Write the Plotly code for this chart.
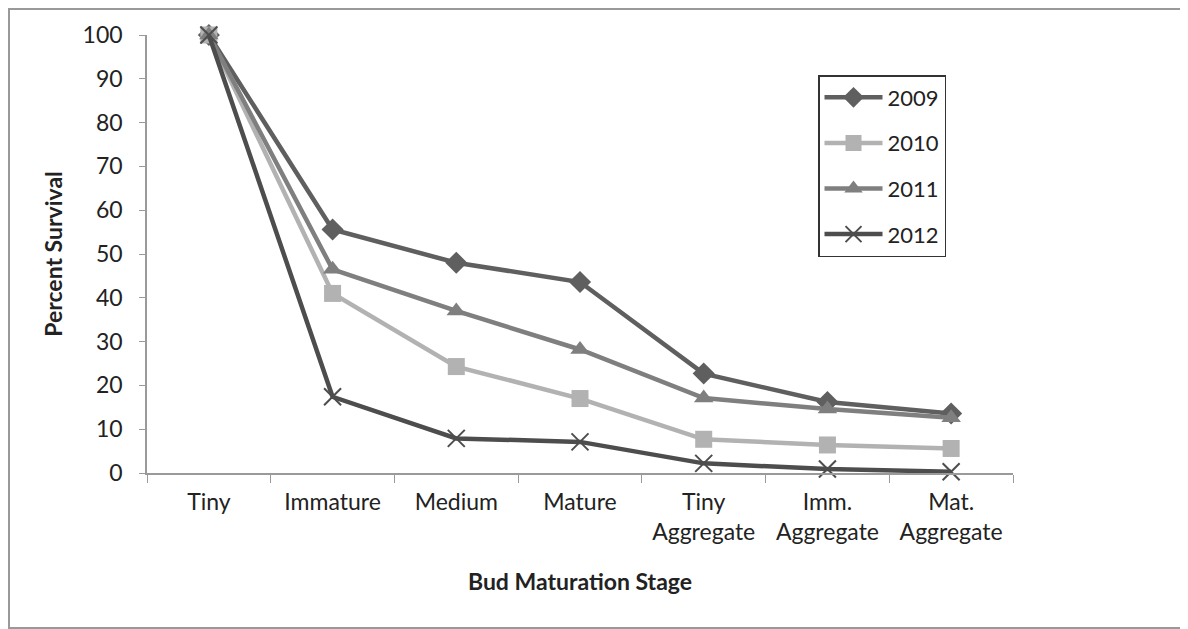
import plotly.graph_objects as go

stages = ['Tiny', 'Immature', 'Medium', 'Mature',
          'Tiny<br>Aggregate', 'Imm.<br>Aggregate', 'Mat.<br>Aggregate']

surv_2009 = [100, 55.6, 48.0, 43.6, 22.7, 16.2, 13.6]
surv_2010 = [100, 41.0, 24.3, 17.0, 7.7, 6.4, 5.6]
surv_2011 = [100, 46.5, 37.0, 28.2, 17.1, 14.6, 12.6]
surv_2012 = [100, 17.4, 7.9, 7.1, 2.2, 0.9, 0.3]

# page has an 8px body margin, so targets are shifted by 8
W, H = 1188, 629
L, R, T, B = 139, 183, 27, 164

series = [
    ('2009', surv_2009, '#5f5f5f', dict(symbol='diamond', size=17)),
    ('2010', surv_2010, '#b2b2b2', dict(symbol='square', size=17)),
    ('2011', surv_2011, '#7f7f7f', dict(symbol='triangle-up', size=17)),
    ('2012', surv_2012, '#4d4d4d', dict(symbol='x-thin', size=17,
                                        line=dict(width=2, color='#4d4d4d'))),
]

fig = go.Figure()
for name, vals, col, mk in series:
    fig.add_trace(go.Scatter(
        x=stages, y=vals, mode='lines+markers', name=name,
        legendgroup=name,
        line=dict(color=col, width=4.5),
        marker=dict(color=col, **mk),
        cliponaxis=False
    ))

# outer frame (top, left, bottom only)
pw, ph = W - L - R, H - T - B
fig.add_shape(type='rect', xref='paper', yref='paper',
              x0=(1 - L) / pw, x1=(1250 - L) / pw,
              y0=(H - B - 620) / ph, y1=(H - B - 1) / ph,
              line=dict(color='#999999', width=2), layer='below')

fig.update_layout(
    width=W, height=H,
    margin=dict(l=L, r=R, t=T, b=B),
    paper_bgcolor='white', plot_bgcolor='white',
    font=dict(family='Lato, Open Sans, sans-serif', size=23, color='#222222'),
    showlegend=True,
    legend=dict(x=(810 - L) / pw, y=(H - B - 67) / ph, xanchor='left', yanchor='top',
                bordercolor='#333333', borderwidth=1.5, bgcolor='white',
                font=dict(size=22), tracegroupgap=14, traceorder='grouped',
                itemwidth=58),
    xaxis=dict(
        title=dict(text='<b>Bud Maturation Stage</b>', font=dict(size=23), standoff=30),
        showline=True, linecolor='#9a9a9a', linewidth=1.5,
        ticks='outside', ticklen=8, tickcolor='#9a9a9a', tickson='boundaries',
        ticklabelstandoff=8,
        showgrid=False, zeroline=False, range=[-0.5, 6.5]
    ),
    yaxis=dict(
        title=dict(text='<b>Percent Survival</b>', font=dict(size=23), standoff=14),
        range=[0, 100], dtick=10, showline=True, linecolor='#9a9a9a', linewidth=1.5,
        ticks='outside', ticklen=6, tickcolor='#9a9a9a', ticklabelstandoff=12,
        showgrid=False, zeroline=False
    ),
)

fig.write_html('out.html')
